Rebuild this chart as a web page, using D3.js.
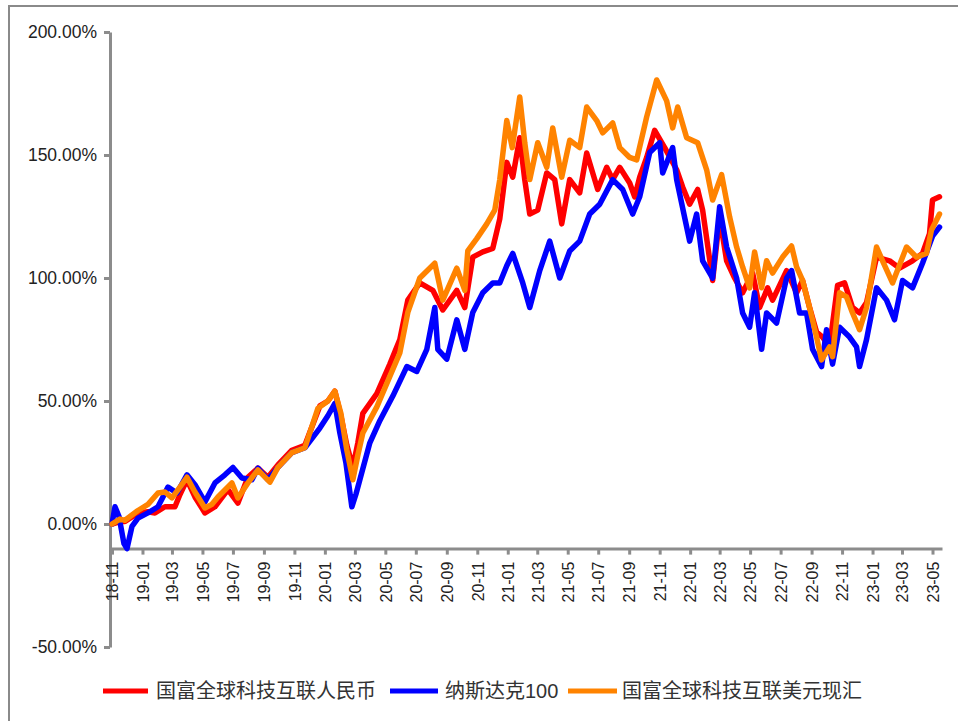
<!DOCTYPE html>
<html><head><meta charset="utf-8">
<script src="https://cdn.jsdelivr.net/npm/d3@7"></script>
<style>
html,body{margin:0;padding:0;background:#fff;}
svg{display:block;}
</style></head>
<body>
<svg id="chart" width="958" height="721"></svg>
<script>
// ---- data (cumulative return, %) ----
const seriesNames = ["国富全球科技互联人民币", "纳斯达克100", "国富全球科技互联美元现汇"];
const seriesColors = ["#ff0000", "#0000ff", "#ff8300"];
const yTicks = [-50, 0, 50, 100, 150, 200];

const redSeries = [
["2018-11-01",0],["2018-11-17",1],["2018-11-27",1],["2018-12-23",4.5],["2019-01-12",5],["2019-01-26",4.5],
["2019-02-15",7],["2019-03-07",7],["2019-03-17",12],["2019-03-31",18],["2019-04-16",11],["2019-05-06",4.5],
["2019-05-26",7],["2019-06-21",14],["2019-07-11",8.5],["2019-07-31",19],["2019-08-20",22.7],["2019-09-09",19],
["2019-09-29",24],["2019-10-27",30],["2019-11-22",32],["2019-12-22",48],["2020-01-07",50],["2020-01-21",54],
["2020-02-02",44],["2020-02-14",32],["2020-02-26",23],["2020-03-07",33],["2020-03-17",45],["2020-04-14",53],
["2020-05-10",65],["2020-05-30",75],["2020-06-15",91],["2020-07-09",98],["2020-08-04",95],["2020-08-24",87],
["2020-09-21",95],["2020-10-07",88],["2020-10-23",108.5],["2020-11-12",110.6],["2020-12-02",112],["2020-12-16",124],
["2020-12-30",147],["2021-01-11",141],["2021-01-25",157],["2021-02-04",140],["2021-02-14",126],["2021-03-02",127.6],
["2021-03-20",142.7],["2021-04-05",140],["2021-04-19",122],["2021-05-05",140],["2021-05-25",134.6],["2021-06-08",150.8],
["2021-06-30",136],["2021-07-18",145],["2021-07-30",140],["2021-08-13",145],["2021-09-02",138.6],["2021-09-12",133],
["2021-09-22",141],["2021-10-06",149],["2021-10-22",160],["2021-11-11",153],["2021-12-05",144],["2021-12-17",137],
["2021-12-31",130],["2022-01-16",136],["2022-01-26",127.6],["2022-02-15",99],["2022-03-01",124.8],["2022-03-15",107],
["2022-03-31",100],["2022-04-16",94],["2022-05-06",102],["2022-05-20",88],["2022-06-05",96],["2022-06-15",91],
["2022-07-13",103],["2022-08-02",94],["2022-08-14",99],["2022-08-28",88],["2022-09-11",78],["2022-09-23",76],
["2022-10-07",72],["2022-10-23",97],["2022-11-06",98],["2022-11-22",88],["2022-12-06",85.8],["2022-12-20",90],
["2023-01-09",108.5],["2023-02-04",107],["2023-02-24",104],["2023-03-22",107],["2023-04-11",110],["2023-04-25",118],
["2023-05-01",131.7],["2023-05-15",133]
];

const blueSeries = [
["2018-11-01",0],["2018-11-07",7],["2018-11-15",3],["2018-11-25",-8],["2018-12-01",-10],["2018-12-11",-1],
["2018-12-23",2.4],["2019-01-12",4.5],["2019-02-01",7],["2019-02-11",11],["2019-02-21",15],["2019-03-11",12.6],
["2019-03-31",20],["2019-04-16",16],["2019-05-06",9],["2019-05-26",16.7],["2019-06-15",20],["2019-07-01",23],
["2019-07-19",18.7],["2019-08-08",18],["2019-08-20",22.7],["2019-09-09",18],["2019-09-29",23],["2019-10-27",29],
["2019-11-22",31],["2019-12-22",39],["2020-01-07",44],["2020-01-21",49],["2020-01-31",37],["2020-02-12",25],
["2020-02-24",7],["2020-03-03",12],["2020-03-11",18],["2020-03-31",33],["2020-04-20",42],["2020-05-16",52],
["2020-06-13",64],["2020-07-03",62],["2020-07-23",71],["2020-08-08",88],["2020-08-14",71],["2020-09-01",67],
["2020-09-21",83],["2020-10-07",71],["2020-10-23",86],["2020-11-12",94],["2020-12-02",98],["2020-12-16",98],
["2020-12-30",105],["2021-01-11",110],["2021-01-31",98],["2021-02-14",88],["2021-03-06",103],["2021-03-26",115],
["2021-04-15",100],["2021-05-05",111],["2021-05-25",115],["2021-06-14",126],["2021-07-04",130],["2021-07-30",140],
["2021-08-19",136],["2021-09-08",126],["2021-09-22",133],["2021-10-12",151],["2021-11-01",155],["2021-11-07",142.7],
["2021-11-27",153],["2021-12-05",140],["2021-12-31",115],["2022-01-14",126],["2022-01-26",107],["2022-02-15",100],
["2022-03-01",129],["2022-03-15",112.6],["2022-04-04",100],["2022-04-16",85.8],["2022-04-30",80],["2022-05-10",94],
["2022-05-24",71],["2022-06-03",85.8],["2022-06-23",81.7],["2022-07-13",100],["2022-07-23",103],["2022-08-08",85.8],
["2022-08-22",85.8],["2022-09-03",71],["2022-09-21",64],["2022-10-01",79],["2022-10-13",65],["2022-10-27",80],
["2022-11-16",76],["2022-11-30",72],["2022-12-06",64],["2022-12-20",75],["2023-01-09",96],["2023-01-29",91],
["2023-02-14",83],["2023-03-02",99],["2023-03-22",96],["2023-04-11",106],["2023-05-01",117],["2023-05-15",120.7]
];

const orangeSeries = [
["2018-11-01",0],["2018-11-17",2],["2018-11-27",1.5],["2018-12-23",5.5],["2019-01-12",8],["2019-02-01",12.6],
["2019-02-15",13],["2019-03-01",10.6],["2019-03-17",15],["2019-03-31",19],["2019-04-16",13],["2019-05-06",6.5],
["2019-05-20",8],["2019-06-01",11],["2019-06-29",16.7],["2019-07-11",10.6],["2019-07-31",16.7],["2019-08-20",22],
["2019-09-13",17],["2019-09-29",23],["2019-10-27",29],["2019-11-22",31],["2019-12-18",47],["2020-01-07",50],
["2020-01-21",54],["2020-02-02",45],["2020-02-14",30],["2020-02-26",18],["2020-03-07",28],["2020-03-17",37],
["2020-04-14",47.6],["2020-05-10",60],["2020-05-30",69.5],["2020-06-15",86],["2020-07-09",100],["2020-08-08",106],
["2020-08-24",91],["2020-09-21",104],["2020-10-07",95],["2020-10-13",111],["2020-10-31",116],["2020-11-20",122],
["2020-12-06",127.6],["2020-12-16",140],["2020-12-30",164],["2021-01-10",153],["2021-01-25",173.6],["2021-02-04",155],
["2021-02-14",140],["2021-03-02",155],["2021-03-20",145],["2021-04-01",161],["2021-04-19",141],["2021-05-05",156],
["2021-05-25",153],["2021-06-08",169.5],["2021-06-28",164],["2021-07-10",159],["2021-07-30",163],["2021-08-13",153],
["2021-09-02",149],["2021-09-16",148],["2021-10-06",165.5],["2021-10-26",180.5],["2021-11-15",172],["2021-11-27",161],
["2021-12-07",169.5],["2021-12-25",157],["2022-01-16",155],["2022-02-03",144],["2022-02-15",131.7],["2022-03-05",142],
["2022-03-21",124.8],["2022-04-04",112.6],["2022-04-16",104.5],["2022-04-30",96],["2022-05-10",110.6],["2022-05-24",96],
["2022-06-03",107],["2022-06-15",102],["2022-07-05",108.5],["2022-07-23",113],["2022-08-02",104.5],["2022-08-14",99],
["2022-08-28",88],["2022-09-11",76],["2022-09-21",66.7],["2022-10-07",72],["2022-10-13",68],["2022-10-27",94],
["2022-11-10",92.3],["2022-11-22",85.8],["2022-12-06",79],["2022-12-20",88],["2023-01-09",112.6],["2023-01-21",107],
["2023-02-10",98],["2023-03-10",112.6],["2023-03-30",108.5],["2023-04-19",110],["2023-04-29",119.5],["2023-05-15",126]
];

// ---- drawing ----
const parse = d3.timeParse("%Y-%m-%d");
const allSeries = [redSeries, blueSeries, orangeSeries].map(s => s.map(([d, v]) => ({date: parse(d), value: v})));

const svg = d3.select("#chart");
const axisColor = "#8c8c8c";
const textColor = "#222";
const latin = "'Liberation Sans', Arial, sans-serif";
const cjk = "'Liberation Sans', 'Noto Sans CJK SC', sans-serif";

// outer frame
svg.append("rect").attr("x", 9).attr("y", 6).attr("width", 980).attr("height", 740)
  .attr("fill", "none").attr("stroke", "#8a8a8a").attr("stroke-width", 2);

const x = d3.scaleTime().domain([parse("2018-10-28"), parse("2023-05-20")]).range([110, 942]);
const y = d3.scaleLinear().domain([-50, 200]).range([647, 32]);

// y axis
const yAxis = svg.append("g").attr("transform", "translate(110,0)")
  .call(d3.axisLeft(y).tickValues(yTicks).tickFormat(d => d.toFixed(2) + "%").tickSize(6).tickSizeOuter(0).tickPadding(7));
yAxis.select(".domain").attr("stroke", axisColor).attr("stroke-width", 3);
yAxis.selectAll(".tick line").attr("stroke", axisColor).attr("stroke-width", 3);
yAxis.selectAll(".tick text").attr("fill", textColor).style("font-family", latin).style("font-size", "17.5px");

// x axis at -10%
const xAxisY = y(-10);
const xAxis = svg.append("g").attr("transform", `translate(0,${xAxisY})`)
  .call(d3.axisBottom(x).ticks(d3.timeMonth.every(2)).tickFormat(d3.timeFormat("%y-%m")).tickSize(6).tickSizeOuter(0));
xAxis.select(".domain").attr("stroke", axisColor).attr("stroke-width", 3);
xAxis.selectAll(".tick line").attr("stroke", axisColor).attr("stroke-width", 3);
xAxis.selectAll(".tick text")
  .attr("transform", "rotate(-90)")
  .attr("x", -13).attr("y", 0).attr("dy", "0.36em")
  .style("text-anchor", "end")
  .attr("fill", textColor).style("font-family", latin).style("font-size", "16px");

// lines
const line = d3.line().x(d => x(d.date)).y(d => y(d.value));
allSeries.forEach((s, i) => {
  svg.append("path").datum(s).attr("d", line)
    .attr("fill", "none").attr("stroke", seriesColors[i]).attr("stroke-width", 5.5)
    .attr("stroke-linejoin", "round").attr("stroke-linecap", "round");
});

// legend
const legendY = 691;
const legendItems = [
  {x1: 103, x2: 148, tx: 156},
  {x1: 390, x2: 438, tx: 445},
  {x1: 568, x2: 617, tx: 622}
];
legendItems.forEach((it, i) => {
  svg.append("line").attr("x1", it.x1).attr("x2", it.x2).attr("y1", legendY).attr("y2", legendY)
    .attr("stroke", seriesColors[i]).attr("stroke-width", 5);
  svg.append("text").attr("x", it.tx).attr("y", legendY).attr("dy", "0.36em")
    .attr("fill", "#333").style("font-family", cjk).style("font-size", "20px")
    .text(seriesNames[i]);
});
</script>
</body></html>
